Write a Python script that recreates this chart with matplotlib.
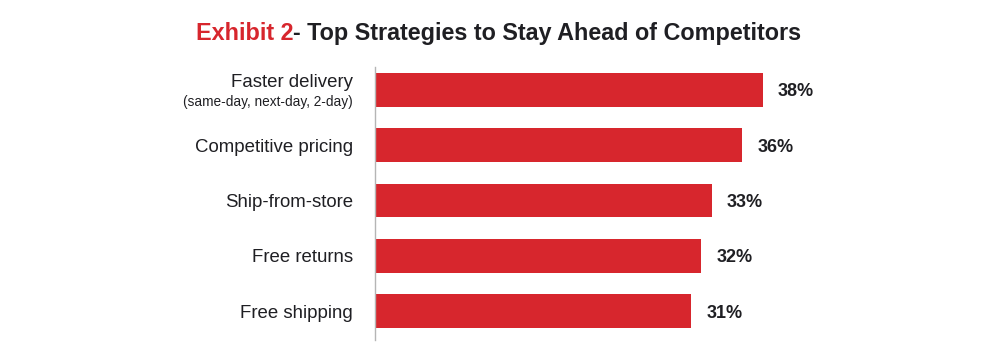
import matplotlib.pyplot as plt
import matplotlib.transforms as mtransforms

strategies = ["Faster delivery", "Competitive pricing", "Ship-from-store", "Free returns", "Free shipping"]
subnotes = ["(same-day, next-day, 2-day)", "", "", "", ""]
shares = [38, 36, 33, 32, 31]

red = "#D7262D"
dark = "#1f1f23"
plt.rcParams['font.family'] = ['Liberation Sans', 'DejaVu Sans']

fig = plt.figure(figsize=(10, 3.49), dpi=100)
ax = fig.add_axes([0.375, 0.026, 0.51, 0.782])

ypos = list(range(len(strategies)))
ax.barh(ypos, shares, height=0.61, color=red)
ax.set_xlim(0, 50)
ax.set_ylim(4.52, -0.41)

for s in ["top", "right", "bottom"]:
    ax.spines[s].set_visible(False)
ax.spines["left"].set_color("#b5b5b5")
ax.spines["left"].set_linewidth(1.0)
ax.set_xticks([])
ax.set_yticks([])

trans = mtransforms.blended_transform_factory(ax.transAxes, ax.transData)
for y, name, note, v in zip(ypos, strategies, subnotes, shares):
    if note:
        ax.text(-0.043, y - 0.17, name, transform=trans, ha="right", va="center_baseline",
                fontsize=13.4, color=dark)
        ax.text(-0.043, y + 0.2, note, transform=trans, ha="right", va="center_baseline",
                fontsize=9.8, color=dark)
    else:
        ax.text(-0.043, y, name, transform=trans, ha="right", va="center_baseline",
                fontsize=13.4, color=dark)
    ax.text(v + 1.5, y, f"{v}%", ha="left", va="center_baseline", fontsize=13,
            fontweight="bold", color=dark)

fig.text(0.293, 0.905, "Exhibit 2", ha="right", va="center", fontsize=16.8,
         fontweight="bold", color=red)
fig.text(0.293, 0.905, "- Top Strategies to Stay Ahead of Competitors", ha="left",
         va="center", fontsize=16.8, fontweight="bold", color=dark)

fig.savefig("out.png", dpi=100)
